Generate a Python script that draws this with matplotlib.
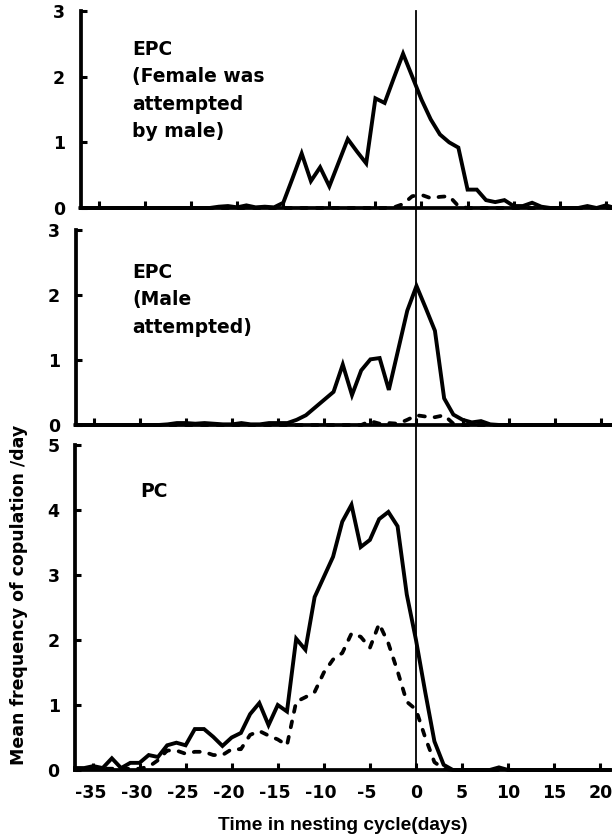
import numpy as np
import matplotlib
matplotlib.use("Agg")
import matplotlib.pyplot as plt
from matplotlib.lines import Line2D
from matplotlib.transforms import ScaledTranslation

plt.rcParams['font.family'] = ['DejaVu Sans']
plt.rcParams['axes.unicode_minus'] = False

# ---------------- data ----------------
days = np.arange(-37, 22)  # -37 .. 21

# Panel 1: EPC (Female was attempted by male)
epc_f_solid = [0, 0, 0, 0, 0, 0, 0, 0, 0, 0,          # -37..-28
               0, 0, 0, 0, 0, 0.02, 0.03, 0.01, 0.04, 0.01,  # -27..-18
               0.02, 0.01, 0.08, 0.45, 0.83, 0.41, 0.62, 0.33, 0.69, 1.05,  # -17..-8
               0.86, 0.68, 1.67, 1.60, 1.98, 2.35, 2.00, 1.65, 1.35, 1.12,  # -7..2
               1.00, 0.92, 0.28, 0.28, 0.12, 0.09, 0.12, 0.03, 0.03, 0.08,  # 3..12
               0.02, 0, 0, 0, 0, 0.03, 0, 0.04, 0]                         # 13..21
epc_f_dash = [0] * 34 + [0.01, 0.06, 0.18, 0.20, 0.15, 0.17, 0.18, 0.03] + [0] * 17

# Panel 2: EPC (Male attempted)
epc_m_solid = [0, 0, 0, 0, 0, 0, 0, 0, 0, 0,          # -37..-28
               0.01, 0.03, 0.03, 0.02, 0.03, 0.02, 0.01, 0.01, 0.03, 0.01,  # -27..-18
               0.01, 0.03, 0.03, 0.03, 0.08, 0.15, 0.27, 0.39, 0.51, 0.93,  # -17..-8
               0.46, 0.84, 1.01, 1.03, 0.54, 1.15, 1.76, 2.14, 1.80, 1.45,  # -7..2
               0.41, 0.16, 0.08, 0.04, 0.06, 0.01, 0, 0, 0, 0,              # 3..12
               0, 0, 0, 0, 0, 0, 0, 0, 0]                                   # 13..21
epc_m_dash = [0] * 32 + [0.06, 0.02, 0.03, 0.02, 0.08, 0.15, 0.13, 0.12, 0.15, 0.02] + [0] * 17

# Panel 3: PC
pc_solid = [0.03, 0.03, 0.06, 0.03, 0.18, 0.03, 0.11, 0.11, 0.23, 0.20,   # -37..-28
            0.38, 0.42, 0.38, 0.63, 0.63, 0.51, 0.37, 0.50, 0.57, 0.86,   # -27..-18
            1.03, 0.69, 1.00, 0.90, 2.02, 1.85, 2.66, 2.97, 3.28, 3.82,   # -17..-8
            4.08, 3.43, 3.54, 3.86, 3.97, 3.75, 2.70, 2.00, 1.20, 0.44,   # -7..2
            0.08, 0, 0, 0, 0, 0, 0.04, 0, 0, 0,                           # 3..12
            0, 0, 0, 0, 0, 0, 0, 0, 0]                                    # 13..21
pc_dash = [0.02, 0.02, 0.02, 0.02, 0.02, 0.02, 0.02, 0.02, 0.05, 0.15,    # -37..-28
           0.30, 0.30, 0.25, 0.28, 0.28, 0.23, 0.23, 0.32, 0.32, 0.54,    # -27..-18
           0.60, 0.53, 0.47, 0.38, 1.05, 1.12, 1.20, 1.50, 1.70, 1.80,    # -17..-8
           2.10, 2.05, 1.88, 2.25, 1.95, 1.52, 1.05, 0.93, 0.50, 0.12,    # -7..2
           0.02, 0, 0, 0, 0, 0, 0, 0, 0, 0,                               # 3..12
           0, 0, 0, 0, 0, 0, 0, 0, 0]                                     # 13..21

xticks = [-35, -30, -25, -20, -15, -10, -5, 0, 5, 10, 15, 20]
xtick_labels = ['-35', '-30', '-25', '-20', '-15', '-10', '-5', '0', '5', '10', '15', '20']

panel1_lines = ["EPC", "(Female was", "attempted", "by male)"]
panel2_lines = ["EPC", "(Male", "attempted)"]
panel3_lines = ["PC"]
xlabel = "Time in nesting cycle(days)"
ylabel = "Mean frequency of copulation /day"

# ---------------- layout ----------------
W, H = 612, 838
fig = plt.figure(figsize=(W / 100, H / 100), dpi=100)


def ax_px(left, top, right, bottom):
    return fig.add_axes([left / W, 1 - bottom / H, (right - left) / W, (bottom - top) / H])


ax1 = ax_px(80.5, 11, 617.8, 208)
ax2 = ax_px(75.5, 230, 612.8, 425)
ax3 = ax_px(75, 445, 612.3, 770)

series = [(ax1, epc_f_solid, epc_f_dash, 3),
          (ax2, epc_m_solid, epc_m_dash, 3),
          (ax3, pc_solid, pc_dash, 5)]

for ax, sol, dsh, ymax in series:
    ax.plot(days, dsh, color='black', lw=2.7, linestyle=(0, (1.6, 2.6)),
            dash_capstyle='round', clip_on=False, zorder=3)
    ax.plot(days, sol, color='black', lw=2.8, solid_joinstyle='miter', clip_on=False, zorder=4)
    ax.set_xlim(-37, 21.3)
    ax.set_ylim(0, ymax)
    for s in ['top', 'right']:
        ax.spines[s].set_visible(False)
    for s in ['left', 'bottom']:
        ax.spines[s].set_linewidth(2.7)
        ax.spines[s].set_zorder(5)
    ax.set_yticks(range(0, ymax + 1))
    ax.set_xticks(xticks)
    ax.tick_params(axis='y', direction='in', length=4.5, width=2.2, pad=11)
    ax.tick_params(axis='x', direction='in', length=5, width=2.2, pad=10)
    for lab in ax.get_yticklabels():
        lab.set_fontweight('bold')
        lab.set_fontsize(12.5)
    ax.patch.set_visible(False)

ax1.set_xticklabels([])
ax2.set_xticklabels([])
ax3.set_xticklabels(xtick_labels, fontsize=12.5, fontweight='bold')
# negative labels sit slightly left of their ticks in the original
shift = ScaledTranslation(-3 / 100, 0, fig.dpi_scale_trans)
for lab in ax3.get_xticklabels():
    if lab.get_text().startswith('-'):
        lab.set_transform(lab.get_transform() + shift)

# panel annotations (one text per line, baselines in pixels)
LS = 27.3
for lines, x_px, y0_px in [(panel1_lines, 132, 55), (panel2_lines, 132, 278), (panel3_lines, 140, 497)]:
    for i, line in enumerate(lines):
        fig.text(x_px / W, 1 - (y0_px + i * LS) / H, line, fontsize=13.5, fontweight='bold',
                 va='baseline', ha='left')

# vertical reference line at day 0 spanning all panels
inv = fig.transFigure.inverted()
x0, yb = inv.transform(ax3.transData.transform((0, 0)))
_, yt = inv.transform(ax1.transData.transform((0, 3)))
fig.add_artist(Line2D([x0, x0], [yb, yt], transform=fig.transFigure, color='black', lw=1.3))

fig.text(343 / W, 1 - 830 / H, xlabel, fontsize=13.8, fontweight='bold', ha='center', va='baseline',
         family=['Liberation Sans', 'DejaVu Sans'])
fig.text(19 / W, 1 - 595 / H, ylabel, fontsize=12.5, fontweight='bold', rotation=90,
         ha='center', va='center')

fig.savefig('out.png', dpi=100)
